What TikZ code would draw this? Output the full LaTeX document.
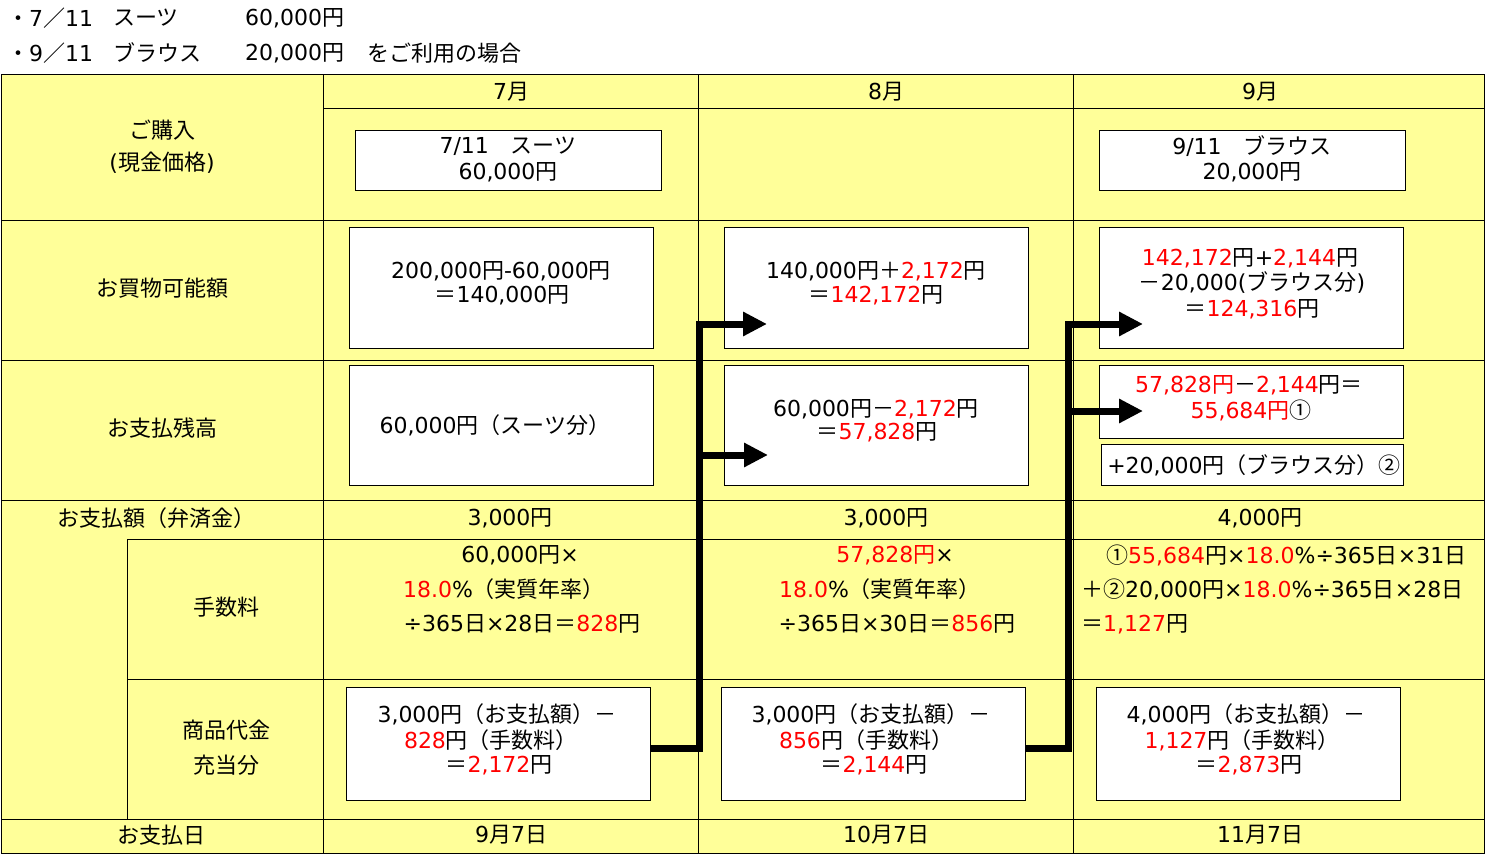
\documentclass[tikz,border=0pt]{standalone}
\usepackage{fontspec}
\setmainfont{DejaVu Sans}
\newfontfamily\jpfont{Noto Sans CJK JP}
\usetikzlibrary{arrows.meta}
\definecolor{cellyellow}{HTML}{FFFF99}
\definecolor{txtred}{HTML}{FF0000}
\newcommand\rd[1]{{\color{txtred}#1}}
\XeTeXinterchartokenstate=1
\chardef\JPclass=7
\makeatletter
\def\setjprange#1#2{\count@=#1\relax
  \loop\XeTeXcharclass\count@=\JPclass\relax
  \ifnum\count@<#2\relax\advance\count@ by 1\relax\repeat}
\setjprange{"2460}{"24FF}
\setjprange{"3000}{"30FF}
\setjprange{"4E00}{"9FFF}
\setjprange{"FF00}{"FFEF}
\makeatother
\XeTeXinterchartoks 0 \JPclass = {\begingroup\jpfont}
\XeTeXinterchartoks 4095 \JPclass = {\begingroup\jpfont}
\XeTeXinterchartoks \JPclass 0 = {\endgroup}
\XeTeXinterchartoks \JPclass 4095 = {\endgroup}
\begin{document}
\begin{tikzpicture}[x=1pt,y=-1pt,
  lbl/.style={inner sep=0pt, font=\fontsize{22}{26}\selectfont},
  lblw/.style={lbl, anchor=west},
  gridline/.style={line width=1pt, draw=black},
  wbox/.style={draw=black, line width=1pt, fill=white, inner sep=0pt},
  flow/.style={line width=7pt, line join=miter, draw=black, -{Triangle[length=24pt,width=23pt]}}]
\fill[white] (0,0) rectangle (1486,856);
\useasboundingbox (0,0) rectangle (1486,856);
% heading lines
\node[lblw] (h1a) at (7,18) {・7／11};
\node[lblw] (h1b) at (113,18) {スーツ};
\node[lblw] (h1c) at (245,18) {60,000円};
\node[lblw] (h2a) at (7,53) {・9／11};
\node[lblw] (h2b) at (113,53) {ブラウス};
\node[lblw] (h2c) at (245,53) {20,000円};
\node[lblw] (h2d) at (367,53) {をご利用の場合};
% table grid
\draw[gridline, fill=cellyellow] (1,75) rectangle (1484,853);
\draw[gridline] (323,109) -- (1484,109);
\draw[gridline] (1,220) -- (1484,220);
\draw[gridline] (1,360) -- (1484,360);
\draw[gridline] (1,500) -- (1484,500);
\draw[gridline] (127,539) -- (1484,539);
\draw[gridline] (127,679) -- (1484,679);
\draw[gridline] (1,819) -- (1484,819);
\draw[gridline] (323,75) -- (323,853);
\draw[gridline] (698,75) -- (698,853);
\draw[gridline] (1073,75) -- (1073,853);
\draw[gridline] (127,539) -- (127,819);
% header
\node[lbl] (m7) at (511,92) {7月};
\node[lbl] (m8) at (886,92) {8月};
\node[lbl] (m9) at (1260,92) {9月};
% row labels
\node[lbl] (r1a) at (162,130) {ご購入};
\node[lbl] (r1b) at (162,163) {(現金価格)};
\node[lbl] (r2) at (162,288) {お買物可能額};
\node[lbl] (r3) at (162,428) {お支払残高};
\node[lbl] (r4) at (156,518) {お支払額（弁済金）};
\node[lbl] (r5) at (226,607) {手数料};
\node[lbl] (r6a) at (226,730) {商品代金};
\node[lbl] (r6b) at (226,765) {充当分};
\node[lbl] (r7) at (161,835) {お支払日};
% purchase boxes
\node[wbox, minimum width=306, minimum height=59] (b7p) at (508,160.5) {};
\node[lbl] at (508,146) {7/11　スーツ};
\node[lbl] at (508,172) {60,000円};
\node[wbox, minimum width=306, minimum height=59] (b9p) at (1252,160.5) {};
\node[lbl] at (1252,146) {9/11　ブラウス};
\node[lbl] at (1252,172) {20,000円};
% available amount boxes
\node[wbox, minimum width=304, minimum height=121] (b72) at (501,287.5) {};
\node[lbl] at (501,271) {200,000円-60,000円};
\node[lbl] at (502,295) {＝140,000円};
\node[wbox, minimum width=304, minimum height=121] (b82) at (876,287.5) {};
\node[lbl] at (876,271) {140,000円＋\rd{2,172}円};
\node[lbl] at (876,295) {＝\rd{142,172}円};
\node[wbox, minimum width=304, minimum height=121] (b92) at (1251,287.5) {};
\node[lbl] at (1250,258) {\rd{142,172}円+\rd{2,144}円};
\node[lbl] at (1252,283) {－20,000(ブラウス分)};
\node[lbl] at (1252,309) {＝\rd{124,316}円};
% balance boxes
\node[wbox, minimum width=304, minimum height=120] (b73) at (501,425) {};
\node[lbl] at (495,425) {60,000円（スーツ分）};
\node[wbox, minimum width=304, minimum height=120] (b83) at (876,425) {};
\node[lbl] at (876,409) {60,000円－\rd{2,172}円};
\node[lbl] at (877,432) {＝\rd{57,828}円};
\node[wbox, minimum width=304, minimum height=73] (b93a) at (1251,401.5) {};
\node[lbl] at (1249,385) {\rd{57,828円}－\rd{2,144}円＝};
\node[lbl] at (1251,410) {\rd{55,684円}①};
\node[wbox, minimum width=302, minimum height=41] (b93b) at (1252,464.5) {};
\node[lbl] at (1254,465) {+20,000円（ブラウス分）②};
% payment amounts
\node[lbl] (p7) at (510,518) {3,000円};
\node[lbl] (p8) at (886,518) {3,000円};
\node[lbl] (p9) at (1260,518) {4,000円};
% fees
\node[lbl] at (520,555) {60,000円×};
\node[lbl] at (504,589) {\rd{18.0}\%（実質年率）};
\node[lbl] at (522,624) {÷365日×28日＝\rd{828}円};
\node[lbl] at (895,555) {\rd{57,828円}×};
\node[lbl] at (880,589) {\rd{18.0}\%（実質年率）};
\node[lbl] at (897,624) {÷365日×30日＝\rd{856}円};
\node[lblw] at (1106,555) {①\rd{55,684}円×\rd{18.0}\%÷365日×31日};
\node[lblw] at (1081,589) {＋②20,000円×\rd{18.0}\%÷365日×28日};
\node[lblw] at (1081,624) {＝\rd{1,127}円};
% product payment boxes
\node[wbox, minimum width=304, minimum height=113] (b7s) at (498,743.5) {};
\node[lbl] at (497,714) {3,000円（お支払額）－};
\node[lbl] at (491,740) {\rd{828}円（手数料）};
\node[lbl] at (499,765) {＝\rd{2,172}円};
\node[wbox, minimum width=304, minimum height=113] (b8s) at (873,743.5) {};
\node[lbl] at (871,714) {3,000円（お支払額）－};
\node[lbl] at (866,740) {\rd{856}円（手数料）};
\node[lbl] at (874,765) {＝\rd{2,144}円};
\node[wbox, minimum width=304, minimum height=113] (b9s) at (1248,743.5) {};
\node[lbl] at (1246,714) {4,000円（お支払額）－};
\node[lbl] at (1242,740) {\rd{1,127}円（手数料）};
\node[lbl] at (1249,765) {＝\rd{2,873}円};
% dates
\node[lbl] (d7) at (511,835) {9月7日};
\node[lbl] (d8) at (886,835) {10月7日};
\node[lbl] (d9) at (1260,835) {11月7日};
% flow arrows
\coordinate (j1) at (699,748);
\coordinate (k1) at (699,324);
\coordinate (t1) at (767,324);
\coordinate (m1) at (699,455);
\coordinate (u1) at (768,455);
\coordinate (j2) at (1068,748);
\coordinate (k2) at (1068,324);
\coordinate (t2) at (1143,324);
\coordinate (m2) at (1068,411);
\coordinate (u2) at (1143,411);
\draw[flow] (b7s.east |- j1) -- (j1) -- (k1) -- (t1);
\draw[flow] (m1) -- (u1);
\draw[flow] (b8s.east |- j2) -- (j2) -- (k2) -- (t2);
\draw[flow] (m2) -- (u2);
\end{tikzpicture}
\end{document}
